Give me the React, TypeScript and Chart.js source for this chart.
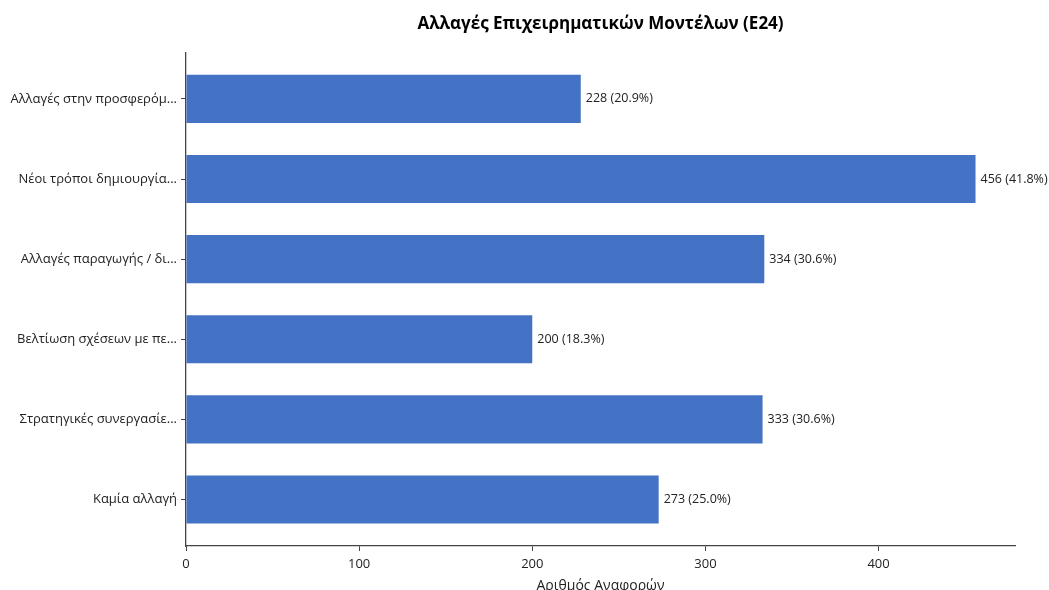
import React, { useEffect, useRef } from "react";
import { Chart, registerables } from "chart.js";

Chart.register(...registerables);

const categories = [
  "Αλλαγές στην προσφερόμ...",
  "Νέοι τρόποι δημιουργία...",
  "Αλλαγές παραγωγής / δι...",
  "Βελτίωση σχέσεων με πε...",
  "Στρατηγικές συνεργασίε...",
  "Καμία αλλαγή",
];
const counts = [228, 456, 334, 200, 333, 273];
const percents = ["20.9", "41.8", "30.6", "18.3", "30.6", "25.0"];
const xTicks = [0, 100, 200, 300, 400];
const chartTitle = "Αλλαγές Επιχειρηματικών Μοντέλων (E24)";
const xTitle = "Αριθμός Αναφορών";

const FONT = "'Open Sans', 'Noto Sans', sans-serif";

const labelPlugin = {
  id: "barLabels",
  afterDatasetsDraw(chart: any) {
    const ctx = chart.ctx;
    const meta = chart.getDatasetMeta(0);
    ctx.save();
    ctx.font = `12.5px ${FONT}`;
    ctx.fillStyle = "#222";
    ctx.textAlign = "left";
    ctx.textBaseline = "middle";
    meta.data.forEach((bar: any, i: number) => {
      ctx.fillText(`${counts[i]} (${percents[i]}%)`, bar.x + 5, bar.y);
    });
    ctx.restore();
  },
};

export default function App() {
  const ref = useRef<HTMLCanvasElement>(null);
  useEffect(() => {
    if (!ref.current) return;
    const chart = new Chart(ref.current, {
      type: "bar",
      data: {
        datasets: [
          {
            data: counts.map((v, i) => ({ x: v, y: i })),
            backgroundColor: "#4472C4",
            borderWidth: 0,
            barPercentage: 0.6,
            categoryPercentage: 1,
          },
        ],
      },
      options: {
        indexAxis: "y",
        animation: false,
        responsive: false,
        layout: { padding: { left: 0, right: 34, top: 0, bottom: 0 } },
        plugins: {
          legend: { display: false },
          tooltip: { enabled: false },
          title: {
            display: true,
            fullSize: false,
            text: chartTitle,
            color: "#000",
            font: { family: FONT, size: 17, weight: "bold" },
            padding: { top: 14, bottom: 18 },
          },
        },
        scales: {
          x: {
            type: "linear",
            min: 0,
            max: 478.8,
            offset: false,
            afterFit: (s: any) => {
              s.height = 44;
            },
            afterBuildTicks: (s: any) => {
              s.ticks = xTicks.map((v) => ({ value: v }));
            },
            ticks: {
              color: "#222",
              font: { family: FONT, size: 13 },
              padding: 5,
              maxRotation: 0,
            },
            grid: {
              display: true,
              drawOnChartArea: false,
              drawTicks: true,
              tickLength: 5,
              color: "#444",
              offset: false,
            },
            border: { display: true, color: "#444", width: 1.3 },
            title: {
              display: true,
              text: xTitle,
              color: "#222",
              font: { family: FONT, size: 14 },
              padding: { top: 0, bottom: -4 },
            },
          },
          y: {
            type: "linear",
            reverse: true,
            min: -0.58,
            max: 5.58,
            offset: false,
            afterFit: (s: any) => {
              s.width = 186;
            },
            afterBuildTicks: (s: any) => {
              s.ticks = categories.map((_, i) => ({ value: i }));
            },
            ticks: {
              color: "#222",
              font: { family: FONT, size: 13 },
              padding: 4,
              callback: (v: any) => categories[Math.round(Number(v))] ?? "",
            },
            grid: {
              display: true,
              drawOnChartArea: false,
              drawTicks: true,
              tickLength: 5,
              color: "#444",
              offset: false,
            },
            border: { display: true, color: "#444", width: 1.3 },
          },
        },
      } as any,
      plugins: [labelPlugin],
    });
    return () => chart.destroy();
  }, []);
  return (
    <div style={{ position: "absolute", left: 0, top: 0, width: 1049, height: 590, background: "#fff" }}>
      <canvas ref={ref} width={1049} height={590} style={{ display: "block" }} />
    </div>
  );
}
